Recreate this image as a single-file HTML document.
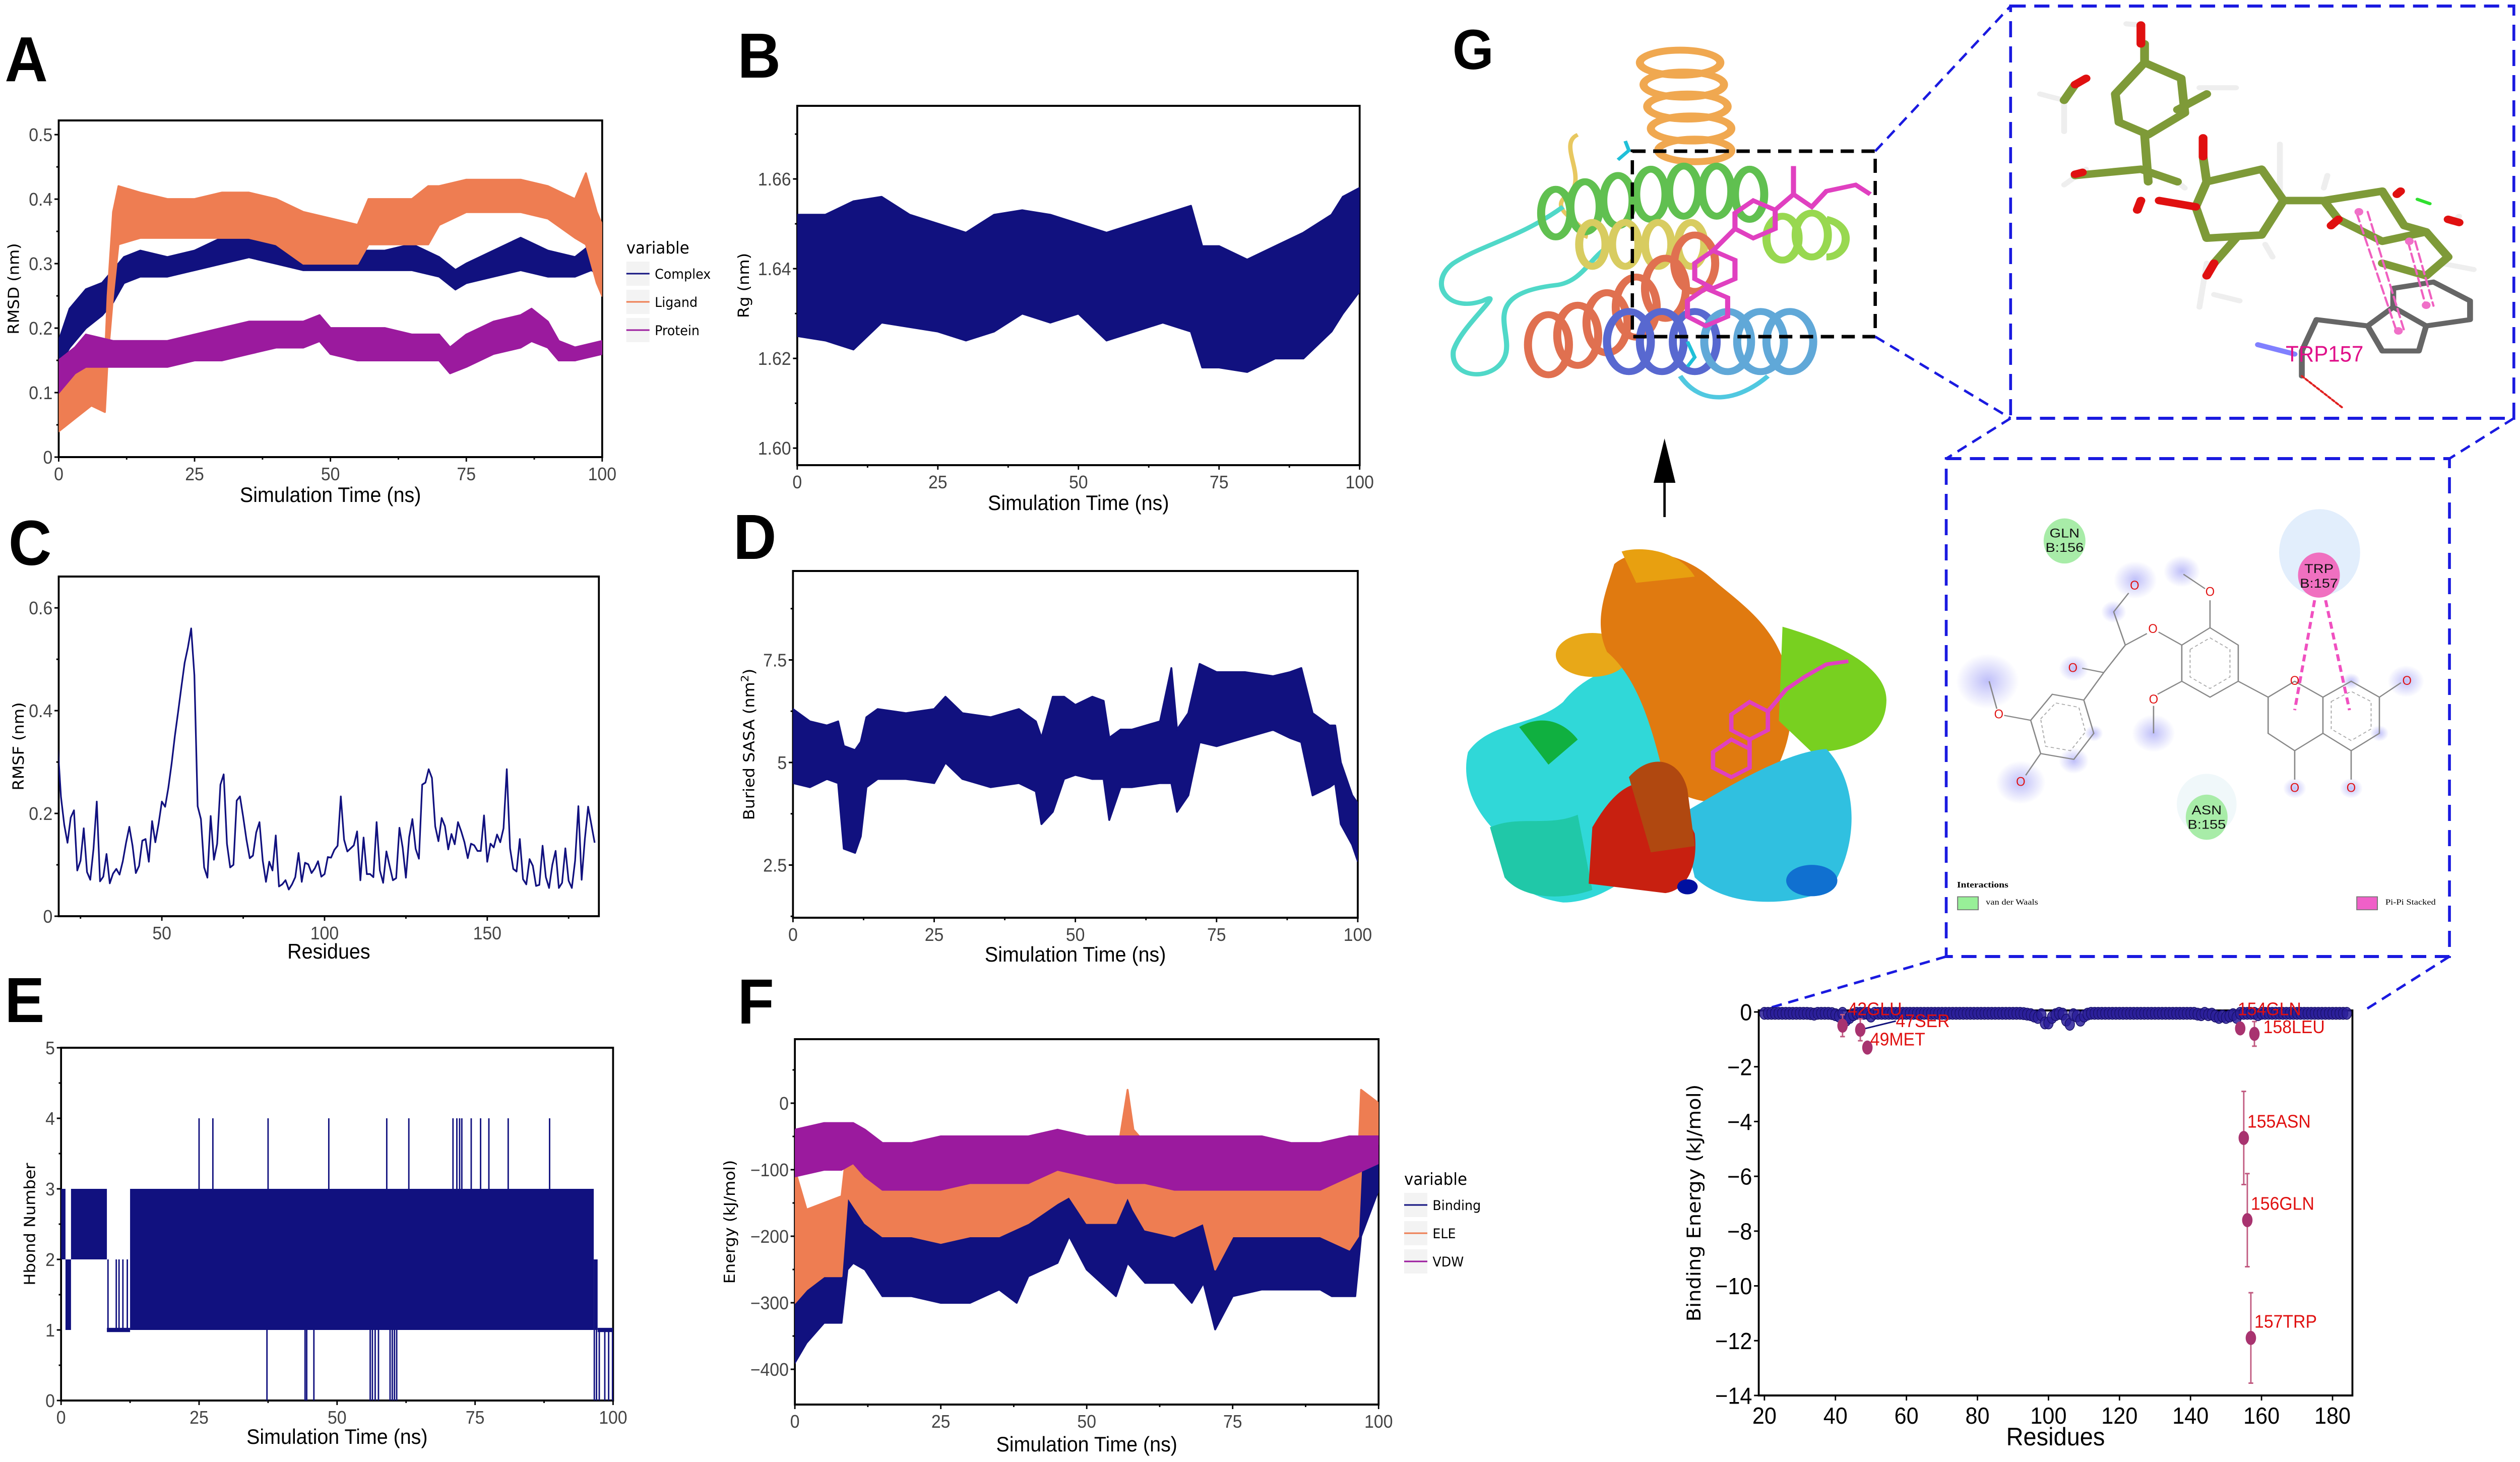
<!DOCTYPE html>
<html><head><meta charset="utf-8">
<style>
html,body{margin:0;padding:0;background:#fff;overflow:hidden;width:100%;height:100%;}
svg{display:block;width:100vw;height:100vh;}
.narrow{font-family:"Liberation Sans Narrow","Liberation Sans",sans-serif;}
.wide{font-family:"DejaVu Sans","Liberation Sans",sans-serif;}
.bold{font-family:"Liberation Sans",sans-serif;font-weight:bold;}
</style></head>
<body>
<svg id="fig" xmlns="http://www.w3.org/2000/svg" viewBox="0 0 5323 2901" preserveAspectRatio="none">
<rect x="0" y="0" width="5323" height="2901" fill="#fff"/>
<text class="bold" x="10" y="161" font-size="126">A</text>
<text class="bold" x="1558" y="154" font-size="126">B</text>
<text class="bold" x="18" y="1121" font-size="126">C</text>
<text class="bold" x="1549" y="1109" font-size="126">D</text>
<text class="bold" x="10" y="2028" font-size="126">E</text>
<text class="bold" x="1558" y="2031" font-size="126">F</text>
<text class="bold" x="3068" y="137" font-size="112">G</text>

<g transform="translate(2900,0) scale(1.545,1.2436)">
  <g fill="none" stroke-width="11">
    <path d="M280,215 C250,230 300,290 262,315 M262,315 C240,340 300,360 290,380" stroke="#e8c860" stroke-width="6"/>
    <path d="M260,330 C200,380 150,390 110,420 C75,450 100,500 150,480 C185,460 120,520 110,560 C105,605 165,610 180,570 C195,530 140,470 250,455 C290,450 300,400 330,390" stroke="#50d8c8" stroke-width="7"/>
    <path d="M420,600 C450,650 500,640 540,600" stroke="#50c8e0" stroke-width="7"/>
    <g stroke="#f0a850"><ellipse cx="420" cy="100" rx="55" ry="20"/><ellipse cx="425" cy="135" rx="55" ry="20"/><ellipse cx="430" cy="170" rx="55" ry="20"/><ellipse cx="435" cy="205" rx="55" ry="20"/><ellipse cx="440" cy="240" rx="50" ry="18"/></g>
    <g stroke="#60c050"><ellipse cx="250" cy="340" rx="20" ry="38"/><ellipse cx="290" cy="330" rx="20" ry="40"/><ellipse cx="335" cy="320" rx="20" ry="40"/><ellipse cx="380" cy="310" rx="20" ry="40"/><ellipse cx="425" cy="305" rx="20" ry="40"/><ellipse cx="470" cy="305" rx="20" ry="40"/><ellipse cx="515" cy="310" rx="20" ry="40"/></g>
    <g stroke="#d8cc60"><ellipse cx="300" cy="390" rx="18" ry="35"/><ellipse cx="345" cy="390" rx="18" ry="35"/><ellipse cx="390" cy="390" rx="18" ry="35"/><ellipse cx="435" cy="390" rx="18" ry="35"/></g>
    <g stroke="#98d850"><ellipse cx="560" cy="380" rx="22" ry="35"/><ellipse cx="600" cy="375" rx="22" ry="35"/><path d="M620,350 C660,360 650,410 620,410"/></g>
    <g stroke="#e07050"><ellipse cx="240" cy="550" rx="28" ry="48"/><ellipse cx="280" cy="535" rx="28" ry="48"/><ellipse cx="320" cy="515" rx="28" ry="48"/><ellipse cx="360" cy="490" rx="28" ry="48"/><ellipse cx="400" cy="460" rx="28" ry="48"/><ellipse cx="440" cy="420" rx="28" ry="45"/></g>
    <g stroke="#5868d0"><ellipse cx="350" cy="545" rx="30" ry="48"/><ellipse cx="395" cy="545" rx="30" ry="48"/><ellipse cx="440" cy="545" rx="30" ry="48"/></g>
    <g stroke="#60a8d8"><ellipse cx="485" cy="545" rx="32" ry="48"/><ellipse cx="530" cy="545" rx="32" ry="48"/><ellipse cx="570" cy="545" rx="32" ry="48"/></g>
    <path d="M335,255 L350,240 L345,225" stroke="#20c0d8" stroke-width="5"/>
    <path d="M430,545 L440,570 L430,585" stroke="#20c0d8" stroke-width="5"/>
  </g>
  <g fill="none" stroke="#e040c0" stroke-width="7">
    <path d="M430,480 L455,460 L485,475 L485,505 L455,520 L430,505 Z"/>
    <path d="M440,420 L465,400 L495,415 L495,445 L465,460 L440,445 Z"/>
    <path d="M495,340 L520,320 L550,335 L550,365 L520,380 L495,365 Z"/>
    <path d="M465,400 L495,365 M550,335 L575,310 L600,330 L620,305 L660,295 L680,310 M575,310 L575,265"/>
  </g>
  <g>
    <path d="M130,1200 C160,1150 220,1160 260,1120 C300,1060 380,1040 410,1100 L430,1300 C380,1380 320,1440 260,1440 C200,1430 170,1390 180,1340 C140,1300 120,1250 130,1200 Z" fill="#30d8d8"/>
    <path d="M160,1320 C200,1300 240,1320 280,1300 L300,1420 C250,1440 200,1430 180,1400 Z" fill="#20c8a8"/>
    <path d="M200,1160 C230,1140 260,1150 280,1180 L240,1220 Z" fill="#10b040"/>
    <ellipse cx="300" cy="1045" rx="50" ry="35" fill="#e8a818"/>
    <path d="M330,900 C360,870 420,880 460,920 C500,960 540,990 560,1050 C585,1120 570,1200 540,1250 C500,1290 440,1290 400,1250 C380,1150 360,1080 320,1040 C300,990 320,940 330,900 Z" fill="#e07a10"/>
    <path d="M340,880 C370,870 420,880 440,920 L360,930 Z" fill="#e8a010"/>
    <path d="M560,1000 C620,1020 705,1060 702,1120 C700,1180 650,1200 600,1200 L555,1150 Z" fill="#78d020"/>
    <path d="M420,1300 C480,1260 560,1200 620,1195 C665,1250 665,1350 625,1420 C560,1450 480,1445 440,1400 Z" fill="#30c0e0"/>
    <ellipse cx="600" cy="1405" rx="35" ry="25" fill="#1070d0"/>
    <path d="M300,1320 C330,1260 360,1230 410,1260 L440,1330 C445,1380 430,1420 400,1425 L295,1410 Z" fill="#c82010"/>
    <path d="M350,1240 C380,1200 420,1210 430,1260 L440,1350 L380,1360 Z" fill="#b04810"/>
    <ellipse cx="430" cy="1415" rx="14" ry="12" fill="#0010a0"/>
    <g fill="none" stroke="#e040c0" stroke-width="6">
      <path d="M465,1200 L490,1180 L515,1195 L515,1225 L490,1240 L465,1225 Z"/>
      <path d="M490,1140 L515,1120 L540,1135 L540,1165 L515,1180 L490,1165 Z"/>
      <path d="M515,1180 L515,1195 M540,1135 L565,1100 L590,1080 L620,1060 L650,1055"/>
    </g>
  </g>
</g>

<g fill="none">
  <rect x="3448" y="300" width="513" height="368" stroke="#000" stroke-width="7" stroke-dasharray="28 16"/>
  <rect x="4247" y="12" width="1063" height="818" stroke="#1a1ae0" stroke-width="6" stroke-dasharray="32 18"/>
  <rect x="4111" y="910" width="1063" height="988" stroke="#1a1ae0" stroke-width="6" stroke-dasharray="32 18"/>
  <g stroke="#1a1ae0" stroke-width="5" stroke-dasharray="22 14">
    <line x1="3961" y1="300" x2="4247" y2="12"/>
    <line x1="3961" y1="668" x2="4247" y2="830"/>
    <line x1="4247" y1="830" x2="4111" y2="910"/>
    <line x1="5310" y1="830" x2="5174" y2="910"/>
    <line x1="4111" y1="1898" x2="3727" y2="2003"/>
    <line x1="5174" y1="1898" x2="4989" y2="2008"/>
  </g>
  <line x1="3516" y1="950" x2="3516" y2="1026" stroke="#000" stroke-width="5"/>
  <polygon points="3516,870 3493,958 3539,958" fill="#000"/>
</g>

<g transform="translate(2900,0) scale(1.545,1.2436)" stroke-linecap="round" stroke-linejoin="round" fill="none">
  <g stroke="#eee" stroke-width="8">
    <path d="M1050,40 L1030,38 M945,160 L912,150 M945,160 L945,210 M1130,140 L1180,140 M1100,290 L1110,300 M975,270 L945,295 M1140,420 L1130,490 M1150,470 L1185,480 M1240,320 L1240,230 M1220,390 L1230,410 M1300,300 L1305,280 M1475,355 L1485,345 M1460,420 L1505,430"/>
  </g>
  <g stroke="#7e9a38" stroke-width="12">
    <path d="M1015,150 L1055,100 L1105,125 L1110,180 L1060,215 L1020,195 Z"/>
    <path d="M1140,290 L1215,270 L1245,320 L1215,375 L1140,380 L1125,330 Z"/>
    <path d="M1245,320 L1300,320 L1380,305 M1300,320 L1320,350 L1380,385 L1440,370 L1470,410 L1440,440 L1380,420"/>
    <path d="M1380,305 L1410,360 L1440,370"/>
    <path d="M960,280 L1050,270 L1100,290 M1055,215 L1060,290 M1100,175 L1140,150 M945,160 L960,135"/>
    <path d="M1055,100 L1055,70 M1180,380 L1150,420 M1140,290 L1135,250"/>
  </g>
  <g stroke="#e01010" stroke-width="12">
    <path d="M1050,70 L1050,40 M960,135 L975,125 M1135,250 L1135,220 M1125,330 L1075,320 M1150,420 L1140,440 M1405,305 L1400,310 M1470,350 L1485,355 M960,278 L970,275 M1050,320 L1045,335 M1320,350 L1310,360"/>
  </g>
  <g stroke="#666" stroke-width="8">
    <path d="M1290,510 L1360,520 L1395,490 L1440,520 L1500,510 L1500,480 L1450,450 L1395,460 L1395,490 M1360,520 L1380,560 L1430,560 L1440,520 M1290,510 L1270,560 L1270,600"/>
  </g>
  <path d="M1210,550 L1260,565" stroke="#8080ff" stroke-width="8"/>
  <path d="M1270,600 L1325,650" stroke="#e02020" stroke-width="3" stroke-dasharray="4 3"/>
  <path d="M1345,340 L1400,530 M1360,338 L1410,528 M1415,385 L1440,490 M1425,385 L1450,488" stroke="#f060c0" stroke-width="3" stroke-dasharray="14 6"/>
  <g fill="#f070c8" stroke="none"><circle cx="1348" cy="338" r="6"/><circle cx="1417" cy="385" r="6"/><circle cx="1440" cy="487" r="6"/><circle cx="1402" cy="528" r="6"/></g>
  <path d="M1428,318 L1445,325" stroke="#30e030" stroke-width="5"/>
  <text x="1248" y="577" transform="translate(1248,577) scale(0.805,1) translate(-1248,-577)" font-family="Liberation Sans, sans-serif" font-size="36" fill="#e0108a" stroke="none">TRP157</text>
</g>

<g transform="translate(4100,950) scale(0.7015,0.574)">
  <defs>
    <radialGradient id="glow"><stop offset="0" stop-color="#b8b8f8" stop-opacity="0.9"/><stop offset="1" stop-color="#b8b8f8" stop-opacity="0"/></radialGradient>
  </defs>
  <g fill="url(#glow)">
    <circle cx="140" cy="700" r="95"/><circle cx="585" cy="350" r="65"/><circle cx="725" cy="320" r="55"/><circle cx="520" cy="460" r="38"/><circle cx="400" cy="655" r="45"/><circle cx="640" cy="880" r="65"/><circle cx="240" cy="1050" r="75"/><circle cx="400" cy="975" r="45"/><circle cx="460" cy="880" r="28"/><circle cx="1065" cy="1070" r="35"/><circle cx="1235" cy="1070" r="35"/><circle cx="1400" cy="700" r="55"/><circle cx="1320" cy="880" r="28"/><circle cx="1235" cy="700" r="28"/>
  </g>
  <ellipse cx="1140" cy="255" rx="122" ry="150" fill="#e2eefc"/>
  <ellipse cx="800" cy="1125" rx="90" ry="105" fill="#f0f8fa"/>
  <ellipse cx="372" cy="215" rx="63" ry="78" fill="#a8eca8"/>
  <ellipse cx="1138" cy="333" rx="63" ry="78" fill="#f070c0"/>
  <ellipse cx="800" cy="1170" rx="63" ry="78" fill="#a8eca8"/>
  <g fill="none" stroke="#888" stroke-width="4">
    <path d="M270,835 L335,745 L430,765 L460,880 L400,970 L300,950 Z"/>
    <path d="M725,575 L810,515 L895,575 L895,700 L810,755 L725,700 Z"/>
    <path d="M985,755 L1065,700 L1150,755 L1150,880 L1065,940 L985,880 Z"/>
    <path d="M1150,755 L1235,700 L1320,755 L1320,880 L1235,940 L1150,880"/>
    <path d="M895,700 L985,755 M1065,940 L1065,1040 M1235,940 L1235,1040 M1320,755 L1385,705 M810,515 L810,420 M795,380 L730,330 M725,700 L652,745 M640,785 L640,880 M725,575 L655,530 M620,535 L555,575 L520,460 L565,395 M555,575 L490,670 L425,655 M490,670 L430,765 M270,835 L190,818 M168,795 L145,700 M300,950 L255,1025"/>
  </g>
  <g fill="none" stroke="#aaa" stroke-width="3" stroke-dasharray="10 8">
    <path d="M300,830 L345,775 L415,790 L435,875 L390,940 L315,925 Z"/>
    <path d="M750,590 L810,550 L870,590 L870,685 L810,725 L750,685 Z"/>
    <path d="M1175,770 L1235,735 L1295,770 L1295,865 L1235,905 L1175,865 Z"/>
  </g>
  <path d="M1125,420 L1065,800 M1158,420 L1230,800" stroke="#f050c0" stroke-width="9" stroke-dasharray="24 14" fill="none"/>
  <g font-family="Liberation Sans, sans-serif" font-size="44" fill="#e01010" text-anchor="middle">
    <text x="583" y="383" transform="translate(583,383) scale(0.818,1) translate(-583,-383)">O</text>
    <text x="810" y="405" transform="translate(810,405) scale(0.818,1) translate(-810,-405)">O</text>
    <text x="638" y="533" transform="translate(638,533) scale(0.818,1) translate(-638,-533)">O</text>
    <text x="397" y="668" transform="translate(397,668) scale(0.818,1) translate(-397,-668)">O</text>
    <text x="640" y="777" transform="translate(640,777) scale(0.818,1) translate(-640,-777)">O</text>
    <text x="174" y="828" transform="translate(174,828) scale(0.818,1) translate(-174,-828)">O</text>
    <text x="240" y="1062" transform="translate(240,1062) scale(0.818,1) translate(-240,-1062)">O</text>
    <text x="1065" y="713" transform="translate(1065,713) scale(0.818,1) translate(-1065,-713)">O</text>
    <text x="1403" y="713" transform="translate(1403,713) scale(0.818,1) translate(-1403,-713)">O</text>
    <text x="1065" y="1083" transform="translate(1065,1083) scale(0.818,1) translate(-1065,-1083)">O</text>
    <text x="1235" y="1083" transform="translate(1235,1083) scale(0.818,1) translate(-1235,-1083)">O</text>
  </g>
  <g font-family="Liberation Sans Narrow, Liberation Sans, sans-serif" font-size="44" fill="#111" text-anchor="middle">
    <text x="372" y="203">GLN</text>
    <text x="372" y="253">B:156</text>
    <text x="1138" y="326">TRP</text>
    <text x="1138" y="376">B:157</text>
    <text x="800" y="1160">ASN</text>
    <text x="800" y="1210">B:155</text>
  </g>
  <text x="48" y="1413" font-family="Liberation Serif, serif" font-weight="bold" font-size="30">Interactions</text>
  <rect x="50" y="1445" width="62" height="45" fill="#98f098" stroke="#777" stroke-width="3"/>
  <text x="135" y="1472" font-family="Liberation Serif, serif" font-size="28">van der Waals</text>
  <rect x="1252" y="1445" width="62" height="45" fill="#f060c8" stroke="#777" stroke-width="3"/>
  <text x="1338" y="1472" font-family="Liberation Serif, serif" font-size="28">Pi-Pi Stacked</text>
</g>
<g id="charts"></g>
</svg>
<script>
const aT=[0,2,5,8,10,12,15,20,25,30,35,40,45,50,55,60,65,70,73,75,80,85,90,95,98,100];
const complexLo=[.14,.17,.2,.22,.24,.27,.28,.28,.29,.30,.31,.30,.29,.29,.29,.29,.29,.28,.26,.27,.28,.29,.28,.28,.29,.28];
const complexHi=[.18,.23,.26,.27,.29,.31,.32,.31,.32,.34,.35,.34,.33,.32,.32,.32,.33,.31,.29,.30,.32,.34,.32,.31,.33,.31];
const ligT=[0,3,6,8.5,9,10,11,15,20,25,30,35,40,45,50,55,57,60,65,68,70,75,80,85,90,95,97,99,100];
const ligLo=[.04,.06,.08,.07,.15,.25,.33,.34,.34,.34,.34,.34,.33,.30,.30,.30,.33,.33,.33,.33,.36,.38,.38,.38,.37,.34,.33,.27,.25];
const ligHi=[.10,.14,.15,.15,.25,.38,.42,.41,.40,.40,.41,.41,.40,.38,.37,.36,.40,.40,.40,.42,.42,.43,.43,.43,.42,.40,.44,.38,.36];
const proT=[0,3,5,10,20,25,30,35,40,45,48,50,55,60,65,70,72,75,80,85,87,90,92,95,100];
const proLo=[.10,.13,.14,.14,.14,.15,.15,.16,.17,.17,.18,.16,.15,.15,.15,.15,.13,.14,.16,.17,.18,.17,.15,.15,.16];
const proHi=[.15,.17,.19,.18,.18,.19,.20,.21,.21,.21,.22,.20,.20,.20,.19,.19,.17,.19,.21,.22,.23,.21,.18,.17,.18];
const rgT=[0,5,10,15,20,25,30,35,40,45,50,55,60,65,70,72,75,80,85,90,95,97,100];
const rgLo=[1.625,1.624,1.622,1.628,1.627,1.626,1.624,1.626,1.630,1.628,1.630,1.624,1.626,1.628,1.626,1.618,1.618,1.617,1.620,1.620,1.626,1.630,1.635];
const rgHi=[1.652,1.652,1.655,1.656,1.652,1.650,1.648,1.652,1.653,1.652,1.650,1.648,1.650,1.652,1.654,1.645,1.645,1.642,1.645,1.648,1.652,1.656,1.658];
const rmsfStart=18;
const rmsf=[.333,.232,.178,.143,.192,.206,.089,.108,.171,.086,.071,.131,.223,.068,.077,.121,.064,.083,.092,.081,.107,.143,.174,.137,.084,.098,.147,.150,.106,.185,.144,.180,.223,.213,.250,.297,.351,.398,.446,.493,.523,.560,.469,.214,.189,.095,.075,.195,.110,.141,.256,.276,.141,.095,.100,.225,.233,.193,.149,.113,.118,.163,.183,.108,.067,.106,.089,.157,.058,.062,.070,.052,.062,.076,.123,.067,.104,.101,.084,.093,.107,.077,.082,.115,.114,.129,.137,.233,.149,.126,.132,.138,.165,.070,.153,.082,.082,.076,.183,.089,.065,.126,.098,.070,.074,.172,.134,.075,.154,.189,.131,.112,.256,.260,.286,.269,.175,.146,.191,.175,.130,.160,.140,.183,.165,.144,.113,.141,.138,.127,.127,.196,.106,.141,.134,.159,.144,.171,.286,.132,.092,.087,.150,.072,.062,.111,.098,.059,.061,.137,.076,.055,.100,.127,.055,.065,.132,.069,.055,.108,.214,.071,.150,.213,.178,.143];
const sT=[0,3,6,8,9,11,12,13,15,20,25,27,30,35,40,43,44,46,48,50,53,55,56,58,60,65,67,68,70,72,75,80,85,88,90,92,95,96,97,99,100];
const sLo=[4.5,4.4,4.6,4.5,2.9,2.8,3.2,4.4,4.6,4.6,4.5,5.0,4.6,4.4,4.5,4.3,3.5,3.8,4.6,4.7,4.6,4.6,3.6,4.4,4.4,4.5,4.5,3.8,4.2,5.5,5.4,5.6,5.8,5.6,5.5,4.2,4.4,4.5,3.5,3.0,2.6];
const sHi=[6.3,6.0,5.9,6.0,5.4,5.3,5.5,6.1,6.3,6.2,6.3,6.6,6.2,6.1,6.3,6.0,5.6,6.6,6.6,6.4,6.6,6.5,5.6,5.8,5.8,6.0,7.3,5.8,6.2,7.4,7.2,7.2,7.1,7.2,7.3,6.2,5.9,5.9,5.0,4.2,4.0];
const hbBandT0=[0,0.8,1.8,8.3,12.5,96.5,97.2];
const hbBandT1=[0.8,1.8,8.3,12.5,96.5,97.2,100];
const hbBandLo=[2,1,2,0.97,1,1,0.97];
const hbBandHi=[3,2,3,1.03,3,2,1.03];
const hbSpikeT=[25,27.5,37.5,48.5,59,63,71,71.7,72.2,72.6,74.3,76,77.5,81,88.5];
const hbZeroT=[37.3,44.2,44.5,45.8,56,56.4,56.9,57.5,59.6,60,60.4,60.8,96.6,97,97.5,98.5,99.2,99.9];
const hbUpT=[8.5,10,10.5,11.2,12];
const bT=[0,2,5,8,9,10,12,15,20,25,30,35,38,40,45,47,50,55,57,60,65,68,70,72,75,80,85,90,92,96,97,100];
const bLo=[-390,-360,-330,-330,-250,-240,-250,-290,-290,-300,-300,-280,-300,-260,-240,-200,-250,-290,-240,-270,-270,-300,-270,-340,-290,-280,-280,-280,-290,-290,-200,-130];
const bHi=[-300,-260,-250,-260,-130,-140,-150,-200,-190,-200,-190,-180,-190,-160,-140,-110,-160,-170,-100,-160,-160,-170,-170,-200,-180,-180,-170,-170,-180,-190,-100,-90];
const eT=[0,2,5,8,9,12,15,20,25,30,35,40,45,47,50,55,57,58,60,65,70,72,75,80,85,90,95,96.5,97,100];
const eLo=[-300,-280,-260,-260,-140,-180,-200,-200,-210,-200,-200,-180,-150,-140,-180,-180,-140,-160,-190,-200,-180,-250,-200,-200,-200,-200,-220,-200,-100,-60];
const eHi=[-100,-160,-150,-140,-60,-80,-110,-110,-120,-110,-100,-90,-50,-50,-90,-90,20,-40,-60,-100,-90,-110,-100,-100,-100,-100,-100,-90,20,0];
const vT=[0,5,8,10,12,15,20,25,30,35,40,45,50,55,60,65,70,75,80,85,90,95,100];
const vLo=[-110,-100,-100,-90,-110,-130,-130,-130,-120,-120,-120,-100,-110,-120,-120,-130,-130,-130,-130,-130,-130,-110,-90];
const vHi=[-40,-30,-30,-30,-40,-60,-60,-50,-50,-50,-50,-40,-50,-50,-50,-50,-50,-50,-50,-60,-60,-50,-50];
const blueStart=20;
const blueVal=[-.05,-.05,-.05,-.05,-.05,-.05,-.05,-.05,-.05,-.05,
-.05,-.05,-.05,-.06,-.08,-.05,-.05,-.05,-.05,-.06,
-.1,-.15,-.05,-.3,-.2,-.1,-.05,-.05,-.05,-.05,
-.15,-.05,-.05,-.05,-.05,-.05,-.05,-.05,-.05,-.05,
-.05,-.05,-.05,-.05,-.05,-.05,-.05,-.05,-.05,-.05,
-.05,-.05,-.05,-.05,-.05,-.05,-.05,-.05,-.05,-.05,
-.05,-.05,-.05,-.05,-.05,-.05,-.05,-.05,-.05,-.05,
-.05,-.05,-.05,-.06,-.08,-.1,-.15,-.2,-.1,-.4,
-.4,-.2,-.1,-.05,-.08,-.3,-.45,-.1,-.15,-.3,
-.15,-.08,-.05,-.05,-.05,-.05,-.05,-.05,-.05,-.05,
-.05,-.05,-.05,-.05,-.05,-.05,-.05,-.05,-.05,-.05,
-.05,-.05,-.05,-.05,-.05,-.05,-.05,-.05,-.05,-.05,
-.05,-.05,-.08,-.1,-.05,-.1,-.08,-.15,-.2,-.15,
-.2,-.15,-.1,-.2,-.05,-.05,-.05,-.05,-.05,-.1,
-.05,-.05,-.05,-.05,-.05,-.05,-.05,-.05,-.05,-.05,
-.05,-.05,-.05,-.05,-.05,-.05,-.05,-.05,-.05,-.05,
-.05,-.05,-.05,-.05,-.05];
const hlRes=[42,47,49,154,155,156,157,158];
const hlVal=[-0.5,-0.65,-1.3,-0.6,-4.6,-7.6,-11.9,-0.8];
const hlErr=[0.4,0.4,0.05,0.15,1.7,1.7,1.65,0.45];
const hlLab=['42GLU','47SER','49MET','154GLN','155ASN','156GLN','157TRP','158LEU'];
const hlLabRes=[43.5,57,49.8,153.3,156,157,158,160.5];
const hlLabVal=[-0.05,-0.48,-1.15,-0.05,-4.15,-7.15,-11.45,-0.7];

const NS='http://www.w3.org/2000/svg';
const root=document.getElementById('charts');
const NAVY='#11117f', ORANGE='#ee7d52', PURPLE='#9b1a9e';
function mk(tag,attrs,parent){const e=document.createElementNS(NS,tag);for(const k in attrs)e.setAttribute(k,attrs[k]);(parent||root).appendChild(e);return e;}
function lin(d0,d1,r0,r1){return v=>r0+(v-d0)*(r1-r0)/(d1-d0);}

function axes(p){
  const g=mk('g',{});
  
  
  const [l,t,r,b]=p.box;
  const X=lin(p.xd[0],p.xd[1],l,r), Y=lin(p.yd[0],p.yd[1],b,t);
  p.X=X;p.Y=Y;p.g=g;
  const fr=mk('rect',{x:l,y:t,width:r-l,height:b-t,fill:'none',stroke:'#000','stroke-width':p.frame||4},g);
  
  
  const tl=p.tickLen||9, fs=p.tickFs||36, col=p.tickCol||'#444';
  p.xt.forEach((v,i)=>{
    const x=X(v);
    const tk=mk('line',{x1:x,y1:b,x2:x,y2:b+tl,stroke:'#000','stroke-width':3},g);
    
    
    const tx=mk('text',{x:x,y:b+(p.xlOff||46),'text-anchor':'middle','font-size':fs,fill:col,class:'narrow'},g);
    tx.textContent=p.xl[i];
    
    
  });
  (p.xm||[]).forEach(v=>{const x=X(v);const m=mk('line',{x1:x,y1:b,x2:x,y2:b+5,stroke:'#000','stroke-width':3},g);
    
    });
  p.yt.forEach((v,i)=>{
    const y=Y(v);
    const tk=mk('line',{x1:l-tl,y1:y,x2:l,y2:y,stroke:'#000','stroke-width':3},g);
    
    
    const tx=mk('text',{x:l-tl-4,y:y+fs*0.36,'text-anchor':'end','font-size':fs,fill:col,class:'narrow'},g);
    tx.textContent=p.yl[i];
    
    
  });
  (p.ym||[]).forEach(v=>{const y=Y(v);const m=mk('line',{x1:l-5,y1:y,x2:l,y2:y,stroke:'#000','stroke-width':3},g);
    
    });
  const xt=mk('text',{x:(l+r)/2,y:p.xtY,'text-anchor':'middle','font-size':p.xtFs||42,fill:'#000',class:'narrow'},g);
  xt.textContent=p.xtitle;
  
  
  const yt=mk('text',{x:0,y:0,'text-anchor':'middle','font-size':p.ytFs||32,fill:'#000',class:'wide',transform:`translate(${p.ytX},${(t+b)/2}) rotate(-90)`},g);
  yt.innerHTML=p.ytitle;
  
  
  const cp=mk('clipPath',{id:'clip-'+p.name},g);
  mk('rect',{x:l,y:t,width:r-l,height:b-t},cp);
  p.plot=mk('g',{'clip-path':`url(#clip-${p.name})`},g);
  return p;
}
function band(p,ts,lo,hi,color,name){
  const pts=[];
  ts.forEach((t,i)=>pts.push(p.X(t).toFixed(1)+','+p.Y(hi[i]).toFixed(1)));
  for(let i=ts.length-1;i>=0;i--)pts.push(p.X(ts[i]).toFixed(1)+','+p.Y(lo[i]).toFixed(1));
  const e=mk('polygon',{points:pts.join(' '),fill:color,stroke:color,'stroke-width':4,'stroke-linejoin':'round'},p.plot);
  
  
}
function legend(x,y,title,items,name){
  const g=mk('g',{});
  
  
  const tt=mk('text',{x:x,y:y,'font-size':33,class:'wide',fill:'#000'},g);
  tt.textContent=title;
  
  
  items.forEach((it,i)=>{
    const ky=y+16+i*56;
    const bg=mk('rect',{x:x,y:ky,width:49,height:48,fill:'#f3f3f3'},g);
    
    
    const ln=mk('line',{x1:x,y1:ky+24,x2:x+49,y2:ky+24,stroke:it[1],'stroke-width':3},g);
    
    
    const tx=mk('text',{x:x+60,y:ky+34,'font-size':27,class:'wide',fill:'#000'},g);
    tx.textContent=it[0];
    
    
  });
}

const A=axes({name:'rmsd-chart',box:[124,239,1272,907],xd:[0,100],yd:[0,0.522],xt:[0,25,50,75,100],xl:['0','25','50','75','100'],xm:[12.5,37.5,62.5,87.5],yt:[0,.1,.2,.3,.4,.5],yl:['0','0.1','0.2','0.3','0.4','0.5'],ym:[.05,.15,.25,.35,.45],xtitle:'Simulation Time (ns)',xtY:996,ytitle:'RMSD (nm)',ytX:40});
band(A,aT,complexLo,complexHi,NAVY,'complex-series');
band(A,ligT,ligLo,ligHi,ORANGE,'ligand-series');
band(A,proT,proLo,proHi,PURPLE,'protein-series');
legend(1323,503,'variable',[['Complex',NAVY],['Ligand',ORANGE],['Protein',PURPLE]],'rmsd-legend');

const B=axes({name:'rg-chart',box:[1684,210,2872,923],xd:[0,100],yd:[1.5962,1.6763],xt:[0,25,50,75,100],xl:['0','25','50','75','100'],xm:[12.5,37.5,62.5,87.5],yt:[1.60,1.62,1.64,1.66],yl:['1.60','1.62','1.64','1.66'],ym:[1.61,1.63,1.65,1.67],xtitle:'Simulation Time (ns)',xtY:1012,ytitle:'Rg (nm)',ytX:1582});
band(B,rgT,rgLo,rgHi,NAVY,'rg-series');

const C=axes({name:'rmsf-chart',box:[124,1144,1265,1818],xd:[18.3,184.3],yd:[0,0.661],xt:[50,100,150],xl:['50','100','150'],xm:[25,75,125,175],yt:[0,.2,.4,.6],yl:['0','0.2','0.4','0.6'],ym:[.1,.3,.5],xtitle:'Residues',xtY:1902,ytitle:'RMSF (nm)',ytX:50});
{
  const pts=rmsf.map((v,i)=>C.X(rmsfStart+i).toFixed(1)+','+C.Y(v).toFixed(1)).join(' ');
  const e=mk('polyline',{points:pts,fill:'none',stroke:NAVY,'stroke-width':3.5,'stroke-linejoin':'round'},C.plot);
  
  
}

const D=axes({name:'sasa-chart',box:[1675,1133,2868,1821],xd:[0,100],yd:[1.216,9.668],xt:[0,25,50,75,100],xl:['0','25','50','75','100'],xm:[12.5,37.5,62.5,87.5],yt:[2.5,5,7.5],yl:['2.5','5','7.5'],ym:[1.25,3.75,6.25,8.75],xtitle:'Simulation Time (ns)',xtY:1908,ytitle:'Buried SASA (nm<tspan dy="-12" font-size="22">2</tspan><tspan dy="12">)</tspan>',ytX:1593});
band(D,sT,sLo,sHi,NAVY,'sasa-series');

const E=axes({name:'hbond-chart',box:[129,2079,1295,2779],xd:[0,100],yd:[0,5],xt:[0,25,50,75,100],xl:['0','25','50','75','100'],xm:[12.5,37.5,62.5,87.5],yt:[0,1,2,3,4,5],yl:['0','1','2','3','4','5'],ym:[.5,1.5,2.5,3.5,4.5],xtitle:'Simulation Time (ns)',xtY:2865,ytitle:'Hbond Number',ytX:74});
hbBandT0.forEach((t0,i)=>{
  const r=mk('rect',{x:E.X(t0),y:E.Y(hbBandHi[i]),width:E.X(hbBandT1[i])-E.X(t0),height:E.Y(hbBandLo[i])-E.Y(hbBandHi[i]),fill:NAVY},E.plot);
  
  
});
hbSpikeT.forEach(t=>{const l=mk('line',{x1:E.X(t),y1:E.Y(3),x2:E.X(t),y2:E.Y(4),stroke:NAVY,'stroke-width':3},E.plot);
  
  });
hbZeroT.forEach(t=>{const l=mk('line',{x1:E.X(t),y1:E.Y(1),x2:E.X(t),y2:E.Y(0),stroke:NAVY,'stroke-width':3},E.plot);
  
  });
hbUpT.forEach(t=>{const l=mk('line',{x1:E.X(t),y1:E.Y(1),x2:E.X(t),y2:E.Y(2),stroke:NAVY,'stroke-width':3},E.plot);
  
  });

const F=axes({name:'energy-chart',box:[1679,2062,2912,2787],xd:[0,100],yd:[-453,96.2],xt:[0,25,50,75,100],xl:['0','25','50','75','100'],xm:[12.5,37.5,62.5,87.5],yt:[-400,-300,-200,-100,0],yl:['\u2212400','\u2212300','\u2212200','\u2212100','0'],ym:[-350,-250,-150,-50,50],xtitle:'Simulation Time (ns)',xtY:2880,ytitle:'Energy (kJ/mol)',ytX:1552});
band(F,bT,bLo,bHi,NAVY,'binding-series');
band(F,eT,eLo,eHi,ORANGE,'ele-series');
band(F,vT,vLo,vHi,PURPLE,'vdw-series');
legend(2966,2351,'variable',[['Binding',NAVY],['ELE',ORANGE],['VDW',PURPLE]],'energy-legend');

const H=axes({name:'residue-energy-chart',box:[3715,2005,4969,2769],xd:[18.4,185.6],yd:[-14,0.055],xt:[20,40,60,80,100,120,140,160,180],xl:['20','40','60','80','100','120','140','160','180'],yt:[0,-2,-4,-6,-8,-10,-12,-14],yl:['0','\u22122','\u22124','\u22126','\u22128','\u221210','\u221212','\u221214'],tickFs:46,tickCol:'#000',tickLen:10,xlOff:56,xtitle:'Residues',xtY:2868,xtFs:50,ytitle:'Binding Energy (kJ/mol)',ytX:3592,ytFs:40});
H.plot.removeAttribute('clip-path');
blueVal.forEach((v,i)=>{
  const c=mk('ellipse',{cx:H.X(blueStart+i),cy:H.Y(v),rx:10,ry:12,fill:'#2a1e9a','fill-opacity':0.85,stroke:'#18106a','stroke-width':1.5},H.plot);
  
  
});
hlRes.forEach((r,i)=>{
  const x=H.X(r), y=H.Y(hlVal[i]);
  const eb=mk('path',{d:`M${x},${H.Y(hlVal[i]+hlErr[i])}V${H.Y(hlVal[i]-hlErr[i])}M${x-5},${H.Y(hlVal[i]+hlErr[i])}h10M${x-5},${H.Y(hlVal[i]-hlErr[i])}h10`,stroke:'#c05a80','stroke-width':3,fill:'none'},H.plot);
  
  
  const lx=H.X(hlLabRes[i]), ly=H.Y(hlLabVal[i]);
  if(Math.abs(lx-x)>25){
    const cl=mk('line',{x1:x,y1:y,x2:lx,y2:ly-8,stroke:'#10107a','stroke-width':3},H.plot);
    
    
  }
  const c=mk('ellipse',{cx:x,cy:y,rx:11,ry:14,fill:'#a8336f'},H.plot);
  
  
  const t=mk('text',{x:lx,y:ly+4,'font-size':36,fill:'#e01010',class:'narrow'},H.plot);
  t.textContent=hlLab[i];
  
  
});
</script>
</body></html>
